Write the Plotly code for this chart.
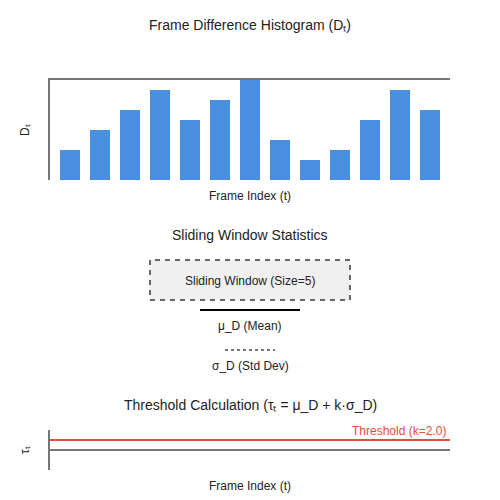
import plotly.graph_objects as go

# ---- data ----
frame_index = list(range(13))
frame_diff = [3, 5, 7, 9, 6, 8, 10, 4, 2, 3, 6, 9, 7]
threshold_x = [-0.6667, 12.6667]
threshold_level = [0.5, 0.5]

W, H = 500, 500
FONT = "Liberation Sans, Arial, sans-serif"
AXIS_GREY = "#777777"
BAR_BLUE = "#4a90e2"
RED = "#e74c3c"


def px(x):
    return x / W


def py(y):
    return 1 - y / H


fig = go.Figure()

fig.add_trace(go.Bar(
    x=frame_index, y=frame_diff, width=0.6667,
    marker=dict(color=BAR_BLUE, line=dict(width=0)),
    xaxis="x", yaxis="y", showlegend=False, hoverinfo="skip",
))

fig.add_trace(go.Scatter(
    x=threshold_x, y=threshold_level, mode="lines",
    line=dict(color=RED, width=2),
    xaxis="x2", yaxis="y2", showlegend=False, hoverinfo="skip",
))

axis_common = dict(showgrid=False, showticklabels=False, ticks="", zeroline=False)

fig.update_layout(
    width=W, height=H,
    margin=dict(l=0, r=0, t=0, b=0),
    paper_bgcolor="white", plot_bgcolor="white",
    font=dict(family=FONT, color="#222222"),
    xaxis=dict(domain=[px(50), px(450)], range=[-0.6667, 12.6667], side="top",
               showline=True, linecolor=AXIS_GREY, linewidth=2, anchor="y", **axis_common),
    yaxis=dict(domain=[py(180), py(80)], range=[0, 10],
               showline=True, linecolor=AXIS_GREY, linewidth=2, anchor="x", **axis_common),
    xaxis2=dict(domain=[px(50), px(450)], range=[-0.6667, 12.6667],
                showline=False, anchor="y2", **axis_common),
    yaxis2=dict(domain=[py(470), py(430)], range=[-1, 1],
                showline=True, linecolor=AXIS_GREY, linewidth=2, anchor="x2",
                showgrid=False, showticklabels=False, ticks="",
                zeroline=True, zerolinecolor=AXIS_GREY, zerolinewidth=2),
    bargap=0,
)

shapes = [
    # sliding window box
    dict(type="rect", xref="paper", yref="paper",
         x0=px(150), x1=px(350), y0=py(300), y1=py(260),
         fillcolor="#f0f0f0", line=dict(color="#666666", width=2, dash="5px,5px"), layer="below"),
    # mean line
    dict(type="line", xref="paper", yref="paper",
         x0=px(200), x1=px(300), y0=py(310), y1=py(310),
         line=dict(color="#000000", width=2)),
    # std dev line
    dict(type="line", xref="paper", yref="paper",
         x0=px(225), x1=px(275), y0=py(350), y1=py(350),
         line=dict(color="#777777", width=2, dash="3px,3px")),
]
fig.update_layout(shapes=shapes)


def ann(text, x, y, size, color="#222222", xanchor="center", textangle=0):
    return dict(text=text, x=px(x), y=py(y), xref="paper", yref="paper",
                showarrow=False, xanchor=xanchor, yanchor="middle",
                font=dict(size=size, color=color, family=FONT), textangle=textangle)


annotations = [
    ann("Frame Difference Histogram (D\u209c)", 250, 25, 14),
    ann("D\u209c", 25, 130, 12, textangle=-90),
    ann("Frame Index (t)", 250, 196, 12),
    ann("Sliding Window Statistics", 250, 235, 14),
    ann("Sliding Window (Size=5)", 250, 281, 12),
    ann("\u03bc_D (Mean)", 250, 326, 12),
    ann("\u03c3_D (Std Dev)", 250, 366, 12),
    ann("Threshold Calculation (\u03c4\u209c = \u03bc_D + k\u00b7\u03c3_D)", 250, 405, 14),
    ann("Threshold (k=2.0)", 448, 431, 12, color=RED, xanchor="right"),
    ann("\u03c4\u209c", 25, 450, 12, textangle=-90),
    ann("Frame Index (t)", 250, 486, 12),
]
fig.update_layout(annotations=annotations)

fig.write_html("out.html", config={"displayModeBar": False},
               post_script="document.body.style.margin='0';document.body.style.overflow='hidden';")
